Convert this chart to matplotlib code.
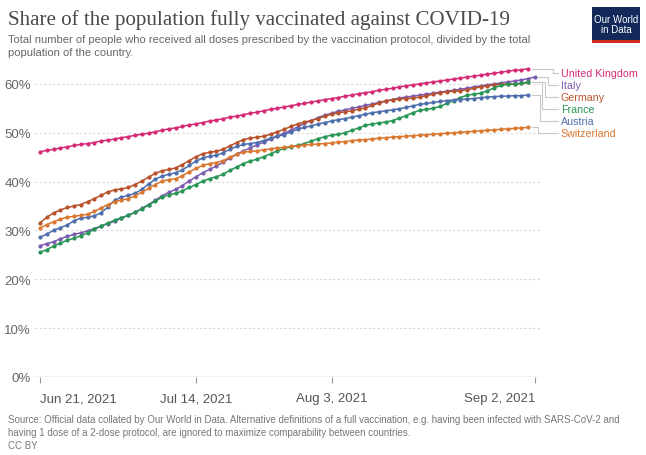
import numpy as np
import pandas as pd
import matplotlib
matplotlib.use('Agg')
import matplotlib.pyplot as plt
from matplotlib.patches import Rectangle

plt.rcParams['font.family'] = ['Liberation Sans', 'DejaVu Sans']

# share fully vaccinated (%), daily from Jun 21, 2021
countries = ['United Kingdom', 'Italy', 'Germany', 'France', 'Austria', 'Switzerland']
colors = ['#d42a78', '#7d5bb0', '#b8522a', '#279553', '#4d6eac', '#d9772f']

uk = [46.1, 46.4, 46.6, 46.9, 47.1, 47.4, 47.6, 47.8, 48.0, 48.3, 48.5, 48.7, 49.0, 49.2, 49.5, 49.7, 49.9, 50.2, 50.5,
      50.8, 51.0, 51.3, 51.6, 51.8, 52.1, 52.4, 52.6, 52.9, 53.2, 53.4, 53.7, 54.0, 54.2, 54.5, 54.8, 55.0, 55.3,
      55.5, 55.8, 56.0, 56.3, 56.5, 56.8, 57.0, 57.2, 57.5, 57.7, 58.0, 58.2, 58.4, 58.7, 58.9, 59.1, 59.4, 59.6, 59.8,
      60.0, 60.2, 60.4, 60.6, 60.8, 61.0, 61.2, 61.4, 61.6, 61.8, 62.0, 62.2, 62.4, 62.6, 62.8, 62.9, 63.1]
italy = [26.9, 27.3, 27.7, 28.3, 28.8, 29.2, 29.5, 29.9, 30.4, 30.9, 31.4, 31.9, 32.5, 33.1, 33.7, 34.5, 35.3, 36.2,
         37.1, 37.8, 38.4, 39.2, 40.1, 41.0, 41.8, 42.5, 43.2, 44.0, 44.8, 45.6, 46.3, 46.9, 47.5, 48.1, 48.7, 49.3,
         49.9, 50.5, 51.2, 51.9, 52.5, 53.1, 53.6, 54.0, 54.4, 54.7, 55.0, 55.3, 55.6, 55.9, 56.2, 56.5, 56.8, 57.1,
         57.3, 57.5, 57.7, 57.9, 58.1, 58.3, 58.5, 58.7, 58.9, 59.1, 59.4, 59.6, 59.8, 60.0, 60.2, 60.4, 60.6, 60.8,
         61.1, 61.4]
germany = [31.6, 32.7, 33.6, 34.2, 34.7, 35.0, 35.3, 35.9, 36.5, 37.2, 37.9, 38.3, 38.5, 38.8, 39.4, 40.1, 40.9, 41.7,
           42.2, 42.5, 42.8, 43.5, 44.3, 45.1, 45.7, 46.0, 46.2, 46.6, 47.3, 48.0, 48.6, 48.9, 49.1, 49.3, 49.7, 50.2,
           50.7, 51.3, 51.8, 52.2, 52.5, 52.9, 53.4, 53.8, 54.1, 54.3, 54.5, 54.8, 55.1, 55.6, 56.1, 56.5, 56.8, 56.9,
           57.0, 57.1, 57.3, 57.6, 57.9, 58.2, 58.4, 58.5, 58.6, 58.8, 59.1, 59.4, 59.6, 59.8, 59.9, 60.0, 60.0, 60.1,
           60.3]
france = [25.5, 26.1, 26.8, 27.4, 28.0, 28.4, 28.9, 29.5, 30.2, 30.9, 31.5, 32.1, 32.6, 33.1, 33.7, 34.4, 35.2, 36.0,
          36.8, 37.3, 37.6, 38.1, 38.8, 39.4, 40.1, 40.6, 41.0, 41.5, 42.3, 43.0, 43.7, 44.2, 44.6, 45.1, 45.7, 46.3,
          46.8, 47.1, 47.4, 47.8, 48.3, 48.8, 49.2, 49.5, 49.7, 50.0, 50.5, 51.0, 51.5, 51.8, 52.0, 52.2, 52.5, 53.0,
          53.5, 54.1, 54.6, 54.8, 55.0, 55.4, 56.0, 56.6, 57.2, 57.7, 57.9, 58.1, 58.6, 59.2, 59.7, 59.9, 60.0, 60.1,
          60.4]
austria = [28.6, 29.3, 30.0, 30.6, 31.1, 32.0, 32.5, 32.7, 33.0, 33.6, 34.8, 36.2, 36.8, 37.2, 37.6, 38.4, 39.5, 40.5,
           41.1, 41.5, 41.8, 42.4, 43.3, 44.2, 44.8, 45.2, 45.4, 45.9, 46.6, 47.2, 47.6, 47.8, 48.0, 48.4, 48.9, 49.3,
           49.6, 50.2, 50.7, 51.1, 51.4, 51.8, 52.1, 52.4, 52.7, 52.9, 53.2, 53.5, 53.8, 54.1, 54.3, 54.5, 54.7, 54.9,
           55.2, 55.5, 55.8, 56.0, 56.2, 56.4, 56.6, 56.7, 56.8, 56.9, 57.0, 57.2, 57.3, 57.4, 57.5, 57.5, 57.6, 57.6,
           57.7]
switzerland = [30.5, 31.2, 31.8, 32.3, 32.7, 32.9, 33.1, 33.3, 33.9, 34.6, 35.3, 35.9, 36.2, 36.5, 37.1, 37.8, 38.6,
               39.4, 40.1, 40.4, 40.6, 41.2, 42.0, 42.7, 43.3, 43.7, 43.9, 44.3, 45.0, 45.6, 46.0, 46.2, 46.3, 46.5,
               46.7, 46.9, 47.0, 47.2, 47.3, 47.5, 47.6, 47.7, 47.8, 47.9, 48.1, 48.2, 48.4, 48.5, 48.6, 48.7, 48.9,
               49.0, 49.1, 49.2, 49.3, 49.4, 49.5, 49.6, 49.7, 49.8, 49.9, 50.0, 50.1, 50.2, 50.3, 50.4, 50.5, 50.6,
               50.7, 50.8, 50.9, 51.0, 51.1]
series = [uk, italy, germany, france, austria, switzerland]

tick_dates = ['2021-06-21', '2021-07-14', '2021-08-03', '2021-09-02']
tick_labels = ['Jun 21, 2021', 'Jul 14, 2021', 'Aug 3, 2021', 'Sep 2, 2021']
yticks = [0, 10, 20, 30, 40, 50, 60]

start = pd.Timestamp('2021-06-21')
end = pd.Timestamp('2021-09-02')

fig = plt.figure(figsize=(6.46, 4.56), dpi=100)
fig.patch.set_facecolor('white')

# axes: x 35..540 px, y 60..378 px
ax = fig.add_axes([35 / 646, 78 / 456, 505 / 646, 318 / 456])
pad = pd.Timedelta(hours=18)
ax.set_xlim(start - pad, end + pad)
ax.set_ylim(0, 65.1)

for yv in yticks[1:]:
    ax.axhline(yv, color='#d9d9d9', lw=0.8, ls=(0, (2, 2)), zorder=0)
ax.axhline(0, color='#999999', lw=0.9, zorder=1)

for vals, c in zip(series, colors):
    d = pd.date_range(start, periods=len(vals), freq='D')
    ax.plot(d, vals, color=c, lw=1.1, marker='o', ms=2.0, mec=c, mfc=c, zorder=3)

for s in ax.spines.values():
    s.set_visible(False)
ax.set_yticks(yticks)
ax.set_yticklabels([f'{v}%' for v in yticks])
ax.tick_params(axis='y', length=0, labelsize=9.5, labelcolor='#666666', pad=3)
ax.set_xticks([pd.Timestamp(t) for t in tick_dates])
ax.set_xticklabels(tick_labels)
ax.tick_params(axis='x', length=4, color='#999999', labelsize=9.5, labelcolor='#555555', pad=7)
xl = ax.get_xticklabels()
xl[0].set_ha('left')
xl[-1].set_ha('right')

# end labels with elbow connectors
label_y = []
for i, vals in enumerate(series):
    if i == 0:
        label_y.append(vals[-1] - 0.8)
    else:
        label_y.append(min(vals[-1], label_y[-1] - 2.45))
elbows = [2.6, 2.0, 1.5, 1.1, 0.8, 0.5]
xlab = end + pd.Timedelta(days=3.8)
for i, (vals, c, name) in enumerate(zip(series, colors, countries)):
    last = start + pd.Timedelta(days=len(vals) - 1)
    xs = [last + pd.Timedelta(hours=12), end + pd.Timedelta(days=elbows[i]),
          end + pd.Timedelta(days=elbows[i]), xlab - pd.Timedelta(hours=10)]
    ys = [vals[-1], vals[-1], label_y[i], label_y[i]]
    ax.plot(xs, ys, color='#c8c8c8', lw=0.8, clip_on=False, zorder=2)
    ax.text(xlab, label_y[i], name, color=c, fontsize=7.7, va='center', ha='left', clip_on=False)

# titles
fig.text(8 / 646, 1 - 20 / 456, 'Share of the population fully vaccinated against COVID-19',
         family=['Liberation Serif', 'DejaVu Serif'], fontsize=15.1, color='#4a4a4a', va='center')
fig.text(8 / 646, 1 - 46.5 / 456,
         'Total number of people who received all doses prescribed by the vaccination protocol, divided by the total\n'
         'population of the country.', fontsize=8.0, color='#666666', va='center', linespacing=1.45)

fig.text(8 / 646, 1 - 433 / 456,
         'Source: Official data collated by Our World in Data. Alternative definitions of a full vaccination, e.g. '
         'having been infected with SARS-CoV-2 and\nhaving 1 dose of a 2-dose protocol, are ignored to maximize '
         'comparability between countries.\nCC BY', fontsize=7.0, color='#777777', va='center', linespacing=1.4)

# logo
fig.patches.append(Rectangle((592 / 646, 1 - 44 / 456), 48 / 646, 36 / 456, transform=fig.transFigure,
                             facecolor='#12295a', edgecolor='none'))
fig.patches.append(Rectangle((592 / 646, 1 - 44 / 456), 48 / 646, 3 / 456, transform=fig.transFigure,
                             facecolor='#d42b21', edgecolor='none'))
fig.text(616 / 646, 1 - 25 / 456, 'Our World\nin Data', color='white', fontsize=7.0, ha='center', va='center',
         linespacing=1.0)

fig.savefig('out.png', dpi=100)
